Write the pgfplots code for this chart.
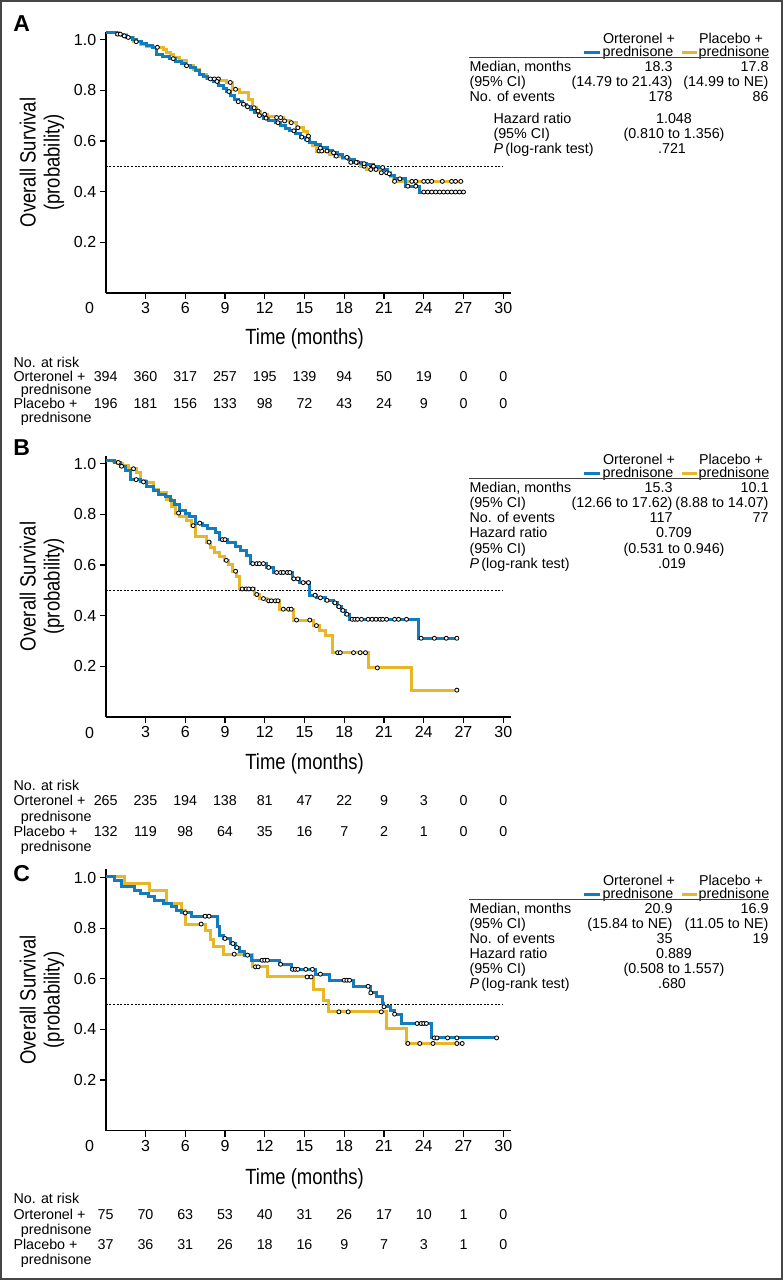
\documentclass[border=0pt]{standalone}
\usepackage{pgfplots}
\pgfplotsset{compat=1.18}
\usepackage{fontspec}
\setmainfont{Liberation Sans}
\newfontfamily\condfont[FakeStretch=0.84]{Liberation Sans}
\definecolor{ortblue}{RGB}{17,125,190}
\definecolor{plagold}{RGB}{232,183,40}
\definecolor{framegray}{RGB}{70,70,70}

\pgfplotsset{
  kmaxis/.style={
    scale only axis, width=405.5pt, height=261.1pt,
    xmin=0, xmax=30.6, ymin=0, ymax=1.032,
    axis lines*=left, axis line style={-, line width=1.7pt, black},
    tick align=outside, major tick length=6pt,
    tick style={line width=1.2pt, black},
    xtick={3,6,...,30}, ytick={0.2,0.4,0.6,0.8,1.0},
    yticklabel style={/pgf/number format/.cd, fixed, fixed zerofill, precision=1},
    /pgf/number format/assume math mode=true,
    tick label style={font=\fontsize{16}{18}\selectfont},
    anchor=south west, clip=false,
  },
  kmline/.style={const plot, line width=3pt, mark=none},
  censor/.style={only marks, mark=*, mark size=2pt, mark options={draw=black, fill=white, line width=0.85pt}},
  medline/.style={black, line width=0.7pt, dash pattern=on 2pt off 1.6pt, mark=none},
}

\tikzset{
  st/.style={font=\fontsize{14.3}{16}\selectfont, inner sep=0pt, text height=10pt, text depth=2pt},
  lab/.style={font=\condfont\fontsize{22}{24}\selectfont, inner sep=0pt},
}

% upper statistics table: #1 y of median row, #2-#7 values
\newcommand{\statsupper}[7]{%
 \begin{scope}[shift={(0pt,-#1pt)}]
  \node[st,anchor=center] at (639pt,28pt) {Orteronel +};
  \node[st,anchor=center] at (638pt,15pt) {prednisone};
  \node[st,anchor=center] at (731pt,28pt) {Placebo +};
  \node[st,anchor=center] at (734pt,15pt) {prednisone};
  \draw[ortblue, line width=3pt] (584pt,15pt) -- (600pt,15pt);
  \draw[plagold, line width=3pt] (681.7pt,15pt) -- (696.7pt,15pt);
  \draw[black!75, line width=0.9pt] (469.3pt,10pt) -- (769.3pt,10pt);
  \node[st,anchor=west] at (469.3pt,0pt) {Median, months};
  \node[st,anchor=east] at (672.7pt,0pt) {#2};
  \node[st,anchor=east] at (768.7pt,0pt) {#3};
  \node[st,anchor=west] at (469.3pt,-15.2pt) {(95\% CI)};
  \node[st,anchor=east] at (672.7pt,-15.2pt) {#4};
  \node[st,anchor=east] at (768.7pt,-15.2pt) {#5};
  \node[st,anchor=west] at (469.3pt,-30.4pt) {No. of events};
  \node[st,anchor=east] at (672.7pt,-30.4pt) {#6};
  \node[st,anchor=east] at (768.7pt,-30.4pt) {#7};
 \end{scope}}
% lower statistics table: #1 y of HR row, #2 x of labels, #3 HR, #4 CI, #5 P
\newcommand{\statslower}[5]{%
 \begin{scope}[shift={(0pt,-#1pt)}]
  \node[st,anchor=west] at (#2pt,0pt) {Hazard ratio};
  \node[st,anchor=west] at (#2pt,-15.2pt) {(95\% CI)};
  \node[st,anchor=west] at (#2pt,-30.4pt) {\textit{P}\,(log-rank test)};
  \node[st,anchor=center] at (674pt,0pt) {#3};
  \node[st,anchor=center] at (674pt,-15.2pt) {#4};
  \node[st,anchor=center] at (672pt,-30.4pt) {#5};
 \end{scope}}
% at-risk table
\newcommand{\atrisk}[7]{%
  \node[st,anchor=west] at (13.3pt,-#1pt) {No. at risk};
  \node[st,anchor=west] at (13.3pt,-#2pt) {Orteronel +};
  \node[st,anchor=west] at (20.7pt,-#3pt) {prednisone};
  \node[st,anchor=west] at (13.3pt,-#4pt) {Placebo +};
  \node[st,anchor=west] at (20.7pt,-#5pt) {prednisone};
  \foreach \v [count=\i from 0] in {#6} {\node[st,anchor=center] at (105.7pt+39.758pt*\i,-#2pt) {\v};}
  \foreach \v [count=\i from 0] in {#7} {\node[st,anchor=center] at (105.7pt+39.758pt*\i,-#4pt) {\v};}
}

\begin{document}
\begin{tikzpicture}
\useasboundingbox (0pt,0pt) rectangle (783pt,-1280pt);
\draw[framegray, line width=1.6pt] (0.8pt,-0.8pt) rectangle (782.2pt,-1279.2pt);

%================ Panel A =================
\begin{axis}[kmaxis, at={(105.7pt,-292.7pt)}]
\addplot[medline] coordinates {(0,0.5) (30,0.5)};
\addplot[kmline, plagold] coordinates {
(0,1.029) (1.0,1.020) (1.6,1.009) (2.1,0.992) (2.6,0.982) (3.1,0.975) (3.6,0.970) (4.35,0.960) (4.6,0.950) (4.9,0.940) (5.1,0.930) (5.6,0.917) (6.1,0.897) (6.6,0.884) (7.1,0.864) (7.6,0.845) (8.6,0.840) (9.1,0.831) (9.6,0.804) (10.1,0.791) (10.8,0.765) (11.1,0.731) (11.4,0.718) (11.7,0.705) (12.2,0.698) (12.9,0.692) (13.4,0.679) (13.9,0.672) (14.4,0.652) (14.9,0.639) (15.2,0.619) (15.4,0.595) (15.6,0.580) (15.9,0.560) (16.9,0.546) (17.3,0.540) (17.9,0.530) (18.4,0.515) (19.2,0.500) (19.7,0.487) (20.7,0.474) (21.5,0.460) (21.7,0.440) (26.8,0.440)};
\addplot[kmline, ortblue] coordinates {
(0,1.029) (0.8,1.022) (1.3,1.015) (1.6,1.009) (2.0,1.000) (2.3,0.992) (2.7,0.985) (3.1,0.976) (3.5,0.968) (3.85,0.943) (4.3,0.935) (4.8,0.925) (5.3,0.912) (5.7,0.905) (6.0,0.897) (6.4,0.890) (6.8,0.880) (7.1,0.864) (7.4,0.855) (7.7,0.845) (8.1,0.835) (8.5,0.820) (8.9,0.808) (9.1,0.795) (9.4,0.780) (9.7,0.765) (10.0,0.755) (10.3,0.745) (10.6,0.735) (10.9,0.725) (11.2,0.712) (11.5,0.700) (11.9,0.690) (12.3,0.680) (12.8,0.672) (13.2,0.660) (13.6,0.650) (13.9,0.640) (14.3,0.628) (14.7,0.615) (15.1,0.605) (15.4,0.595) (15.8,0.585) (16.2,0.572) (16.7,0.562) (17.1,0.553) (17.5,0.545) (17.9,0.535) (18.3,0.526) (18.8,0.515) (19.3,0.510) (19.7,0.505) (20.2,0.500) (20.6,0.495) (21.0,0.487) (21.3,0.470) (21.5,0.462) (21.8,0.450) (22.6,0.421) (23.7,0.398) (27.0,0.398)};
\addplot[censor] coordinates {
(2.3,0.992) (3.9,0.970) (7.9,0.845) (8.2,0.845) (8.5,0.845) (9.4,0.831) (9.8,0.804) (11.2,0.731) (11.5,0.718) (12.0,0.705) (12.9,0.692) (13.2,0.692) (13.5,0.679) (14.0,0.672) (14.5,0.652) (15.3,0.619) (16.1,0.560) (16.3,0.560) (16.7,0.560) (17.4,0.540) (18.5,0.515) (19.0,0.515) (19.5,0.500) (20.0,0.487) (20.4,0.487) (20.8,0.474) (21.2,0.474) (21.8,0.440) (23.1,0.440) (23.4,0.440) (24.0,0.440) (24.3,0.440) (24.6,0.440) (25.4,0.440) (26.1,0.440) (26.4,0.440) (26.8,0.440)};
\addplot[censor] coordinates {
(0.9,1.022) (1.1,1.022) (1.4,1.015) (1.7,1.009) (5.1,0.925) (6.1,0.897) (8.4,0.835) (9.3,0.795) (10.0,0.755) (10.4,0.745) (10.7,0.735) (11.6,0.700) (12.1,0.690) (13.0,0.672) (14.2,0.640) (14.8,0.615) (15.2,0.605) (16.2,0.572) (17.2,0.553) (18.2,0.535) (18.9,0.515) (19.5,0.510) (20.2,0.500) (20.9,0.495) (21.4,0.470) (22.2,0.450) (22.8,0.421) (23.4,0.421) (24.0,0.398) (24.3,0.398) (24.6,0.398) (24.9,0.398) (25.2,0.398) (25.5,0.398) (25.8,0.398) (26.1,0.398) (26.4,0.398) (26.7,0.398) (27.0,0.398)};
\end{axis}

%================ Panel B =================
\begin{axis}[kmaxis, at={(105.7pt,-716.7pt)}]
\addplot[medline] coordinates {(0,0.5) (30,0.5)};
\addplot[kmline, plagold] coordinates {
(0,1.011) (0.6,1.007) (0.9,1.000) (1.3,0.993) (1.7,0.980) (2.3,0.965) (2.6,0.935) (3.0,0.925) (3.6,0.900) (4.0,0.885) (4.6,0.860) (5.0,0.830) (5.3,0.805) (5.6,0.790) (6.1,0.775) (6.5,0.755) (6.8,0.712) (7.6,0.690) (7.9,0.670) (8.2,0.650) (8.6,0.635) (9.0,0.618) (9.3,0.600) (9.6,0.575) (9.9,0.553) (10.1,0.505) (11.2,0.483) (11.6,0.467) (12.1,0.458) (13.1,0.425) (14.2,0.382) (15.7,0.360) (16.1,0.340) (16.6,0.320) (17.1,0.253) (19.8,0.193) (23.1,0.105) (26.5,0.105)};
\addplot[kmline, ortblue] coordinates {
(0,1.011) (0.7,1.005) (1.1,0.990) (1.5,0.975) (1.9,0.937) (2.6,0.928) (3.1,0.908) (3.6,0.895) (4.0,0.880) (4.5,0.870) (4.9,0.855) (5.2,0.837) (5.6,0.816) (6.0,0.803) (6.3,0.790) (6.8,0.765) (7.3,0.757) (7.7,0.745) (8.3,0.730) (8.6,0.700) (9.2,0.687) (9.8,0.673) (10.2,0.657) (10.6,0.638) (10.9,0.605) (12.1,0.590) (12.7,0.570) (14.1,0.545) (14.6,0.530) (15.4,0.480) (15.9,0.470) (16.6,0.460) (17.2,0.450) (17.5,0.435) (17.8,0.420) (18.1,0.405) (18.4,0.385) (23.6,0.310) (26.5,0.310)};
\addplot[censor] coordinates {
(2.1,0.980) (5.5,0.805) (6.6,0.755) (7.8,0.690) (9.1,0.618) (9.8,0.575) (10.3,0.505) (10.6,0.505) (10.8,0.505) (11.1,0.505) (11.4,0.483) (11.9,0.467) (12.3,0.458) (12.5,0.458) (12.8,0.458) (13.0,0.458) (13.4,0.425) (13.8,0.425) (14.0,0.425) (14.4,0.382) (15.4,0.382) (15.9,0.360) (17.5,0.253) (17.7,0.253) (18.7,0.253) (19.2,0.253) (19.6,0.253) (20.5,0.193) (26.5,0.105)};
\addplot[censor] coordinates {
(0.95,1.005) (1.2,0.990) (2.3,0.937) (2.85,0.928) (7.1,0.765) (8.8,0.700) (9.0,0.700) (11.1,0.605) (11.4,0.605) (11.6,0.605) (11.9,0.605) (12.3,0.590) (12.9,0.570) (13.2,0.570) (13.4,0.570) (13.7,0.570) (13.9,0.570) (14.2,0.545) (14.5,0.545) (14.9,0.530) (15.3,0.530) (15.8,0.480) (16.2,0.470) (16.7,0.460) (17.3,0.450) (17.6,0.435) (17.9,0.420) (18.2,0.405) (18.6,0.385) (18.8,0.385) (19.0,0.385) (19.3,0.385) (19.8,0.385) (20.1,0.385) (20.4,0.385) (20.7,0.385) (20.9,0.385) (21.2,0.385) (21.8,0.385) (22.1,0.385) (22.7,0.385) (23.8,0.310) (24.8,0.310) (25.7,0.310) (26.5,0.310)};
\end{axis}

%================ Panel C =================
\begin{axis}[kmaxis, at={(105.7pt,-1130.5pt)}]
\addplot[medline] coordinates {(0,0.5) (30,0.5)};
\addplot[kmline, plagold] coordinates {
(0,1.005) (1.45,0.976) (3.3,0.950) (4.6,0.897) (5.7,0.871) (6.0,0.816) (7.5,0.792) (7.9,0.755) (8.1,0.726) (8.9,0.697) (11.1,0.647) (12.2,0.607) (15.7,0.559) (16.4,0.515) (16.8,0.469) (21.2,0.403) (22.7,0.344) (27.0,0.344)};
\addplot[kmline, ortblue] coordinates {
(0,1.005) (0.7,0.989) (1.2,0.963) (2.2,0.950) (2.6,0.937) (3.2,0.924) (3.7,0.910) (4.35,0.897) (5.0,0.884) (5.35,0.871) (5.7,0.860) (6.5,0.847) (8.4,0.805) (8.6,0.772) (8.9,0.759) (9.4,0.739) (9.8,0.723) (10.1,0.706) (10.5,0.693) (11.0,0.673) (13.1,0.657) (14.0,0.637) (15.8,0.618) (16.9,0.594) (18.7,0.570) (20.0,0.544) (20.4,0.528) (20.9,0.502) (21.0,0.489) (21.5,0.474) (21.8,0.460) (22.3,0.423) (24.6,0.366) (29.5,0.366)};
\addplot[censor] coordinates {
(7.2,0.816) (9.7,0.697) (11.3,0.647) (11.5,0.647) (15.2,0.607) (15.5,0.607) (17.6,0.469) (18.3,0.469) (20.8,0.469) (22.8,0.344) (23.7,0.344) (24.7,0.344) (26.5,0.344) (26.9,0.344)};
\addplot[censor] coordinates {
(6.0,0.860) (7.5,0.847) (7.8,0.847) (9.0,0.759) (9.6,0.739) (9.9,0.723) (10.7,0.693) (11.8,0.673) (12.0,0.673) (12.2,0.673) (13.2,0.657) (14.1,0.637) (14.3,0.637) (14.5,0.637) (15.1,0.637) (15.6,0.637) (16.2,0.618) (18.0,0.594) (18.2,0.594) (18.4,0.594) (19.8,0.570) (20.0,0.544) (21.0,0.489) (21.8,0.460) (23.5,0.423) (23.8,0.423) (24.0,0.423) (24.2,0.423) (24.8,0.366) (25.0,0.366) (25.8,0.366) (26.5,0.366) (29.5,0.366)};
\end{axis}

%================ Text =================
\foreach \L/\y in {A/23.3, B/448, C/874}
  \node[font=\fontsize{23}{23}\selectfont\bfseries, inner sep=0pt] at (21.7pt,-\y pt) {\L};
\foreach \y in {308, 732.7, 1146}
  \node[font=\fontsize{16}{18}\selectfont, inner sep=0pt] at (89.5pt,-\y pt) {0};
\foreach \y in {162.5, 586.3, 1000}
  \node[lab, rotate=90, align=center] at (42pt,-\y pt) {Overall Survival\\(probability)};
\foreach \y in {339, 763.3, 1178.3}
  \node[lab] at (304.5pt,-\y pt) {Time (months)};

\atrisk{363.3}{377.3}{390.5}{404.7}{418}{394,360,317,257,195,139,94,50,19,0,0}{196,181,156,133,98,72,43,24,9,0,0}
\atrisk{786.7}{801.7}{817}{832.3}{847}{265,235,194,138,81,47,22,9,3,0,0}{132,119,98,64,35,16,7,2,1,0,0}
\atrisk{1199.3}{1215}{1230}{1245}{1260}{75,70,63,53,40,31,26,17,10,1,0}{37,36,31,26,18,16,9,7,3,1,0}

\statsupper{67.3}{18.3}{17.8}{(14.79 to 21.43)}{(14.99 to NE)}{178}{86}
\statslower{119}{493.3}{1.048}{(0.810 to 1.356)}{.721}
\statsupper{488.3}{15.3}{10.1}{(12.66 to 17.62)}{(8.88 to 14.07)}{117}{77}
\statslower{533.9}{469.3}{0.709}{(0.531 to 0.946)}{.019}
\statsupper{909}{20.9}{16.9}{(15.84 to NE)}{(11.05 to NE)}{35}{19}
\statslower{954.3}{469.3}{0.889}{(0.508 to 1.557)}{.680}
\end{tikzpicture}
\end{document}
